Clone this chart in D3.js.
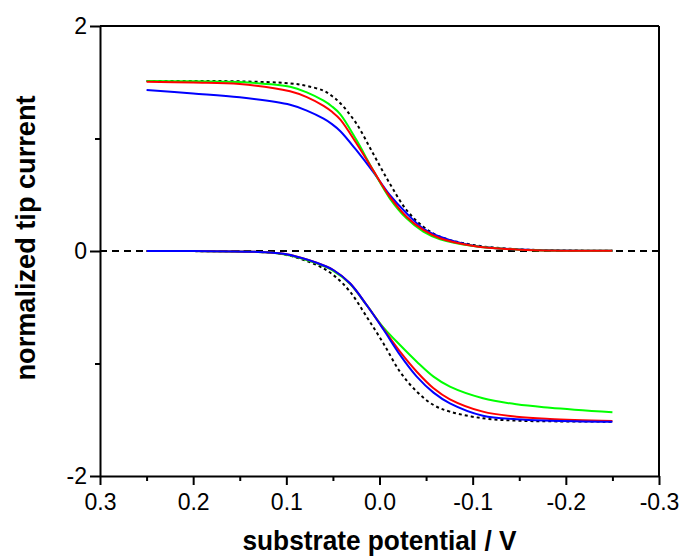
<!DOCTYPE html>
<html>
<head>
<meta charset="utf-8">
<script src="https://cdn.jsdelivr.net/npm/d3@7"></script>
<style>
  body { margin: 0; background: #fff; }
  text { font-family: "Liberation Sans", Arial, sans-serif; }
</style>
</head>
<body>
<div id="chart"></div>
<script>
// potentials (V) where the curves were read
const upperE = [0.25, 0.20, 0.15, 0.096, 0.078, 0.060, 0.051, 0.042, 0.025, 0.007, -0.011, -0.029, -0.047, -0.065, -0.101, -0.15, -0.25];
const lowerE = [0.25, 0.20, 0.139, 0.103, 0.0675, 0.0496, 0.0317, 0.0138, -0.0041, -0.022, -0.040, -0.058, -0.0756, -0.111, -0.147, -0.183, -0.25];

// upper branch (positive currents)
const upperBlack = [1.511, 1.511, 1.508, 1.49, 1.467, 1.425, 1.378, 1.313, 1.135, 0.868, 0.60, 0.364, 0.216, 0.127, 0.053, 0.015, 0.002];
const upperGreen = [1.511, 1.508, 1.502, 1.46, 1.41, 1.336, 1.285, 1.215, 0.99, 0.72, 0.468, 0.29, 0.172, 0.104, 0.044, 0.012, 0.002];
const upperRed   = [1.505, 1.497, 1.484, 1.42, 1.368, 1.29, 1.237, 1.168, 0.96, 0.72, 0.483, 0.305, 0.187, 0.113, 0.044, 0.012, 0.002];
const upperBlue  = [1.431, 1.40, 1.366, 1.30, 1.248, 1.176, 1.128, 1.065, 0.898, 0.705, 0.498, 0.335, 0.20, 0.127, 0.047, 0.013, 0.002];

// lower branch (negative currents)
const lowerBlack = [0, -0.001, -0.006, -0.03, -0.124, -0.213, -0.361, -0.584, -0.82, -1.073, -1.25, -1.369, -1.428, -1.487, -1.508, -1.514, -1.517];
const lowerGreen = [0, -0.001, -0.007, -0.028, -0.11, -0.177, -0.292, -0.482, -0.679, -0.836, -0.984, -1.117, -1.206, -1.309, -1.363, -1.393, -1.434];
const lowerRed   = [0, -0.001, -0.006, -0.025, -0.104, -0.169, -0.287, -0.48, -0.69, -0.895, -1.073, -1.22, -1.318, -1.428, -1.473, -1.493, -1.511];
const lowerBlue  = [0, -0.001, -0.006, -0.025, -0.104, -0.169, -0.287, -0.48, -0.696, -0.924, -1.117, -1.259, -1.354, -1.464, -1.496, -1.508, -1.517];

const xTicks = [0.3, 0.2, 0.1, 0.0, -0.1, -0.2, -0.3];
const xTickLabels = ["0.3", "0.2", "0.1", "0.0", "-0.1", "-0.2", "-0.3"];
const xMinorTicks = [0.25, 0.15, 0.05, -0.05, -0.15, -0.25];
const yTicks = [-2, 0, 2];
const yTickLabels = ["-2", "0", "2"];
const yMinorTicks = [-1, 1];

const W = 682, H = 559;
const margin = { top: 26, right: 23, bottom: 83, left: 100 },
  width = W - margin.left - margin.right,
  height = H - margin.top - margin.bottom;

const svg = d3.select("#chart")
  .append("svg")
  .attr("width", W)
  .attr("height", H);

const g = svg.append("g")
  .attr("transform", `translate(${margin.left},${margin.top})`);

const x = d3.scaleLinear().domain([0.3, -0.3]).range([0, width]);
const y = d3.scaleLinear().domain([-2, 2]).range([height, 0]);

// axes
g.append("g")
  .attr("transform", `translate(0,${height})`)
  .call(d3.axisBottom(x).tickValues(xTicks).tickSize(9).tickSizeOuter(0).tickPadding(9)
    .tickFormat((d, i) => xTickLabels[i]));
g.append("g")
  .attr("transform", `translate(0,${height})`)
  .call(d3.axisBottom(x).tickValues(xMinorTicks).tickSize(5).tickFormat(""))
  .call(a => a.select(".domain").remove());

g.append("g")
  .call(d3.axisLeft(y).tickValues(yTicks).tickSize(10).tickSizeOuter(0).tickPadding(3)
    .tickFormat((d, i) => yTickLabels[i]));
g.append("g")
  .call(d3.axisLeft(y).tickValues(yMinorTicks).tickSize(5).tickFormat(""))
  .call(a => a.select(".domain").remove());

g.selectAll(".domain, .tick line").attr("stroke", "#000").attr("stroke-width", 2);
g.selectAll(".tick text").attr("fill", "#000").style("font-size", "23px");

// top and right frame
g.append("line").attr("x1", 0).attr("x2", width).attr("y1", 0).attr("y2", 0)
  .attr("stroke", "#000").attr("stroke-width", 2);
g.append("line").attr("x1", width).attr("x2", width).attr("y1", 0).attr("y2", height)
  .attr("stroke", "#000").attr("stroke-width", 2);

// zero line
g.append("line")
  .attr("x1", x(0.3)).attr("x2", x(-0.3))
  .attr("y1", y(0)).attr("y2", y(0))
  .attr("stroke", "#000").attr("stroke-width", 2)
  .attr("stroke-dasharray", "7,5");

const line = d3.line()
  .x(d => x(d[0]))
  .y(d => y(d[1]))
  .curve(d3.curveCatmullRom.alpha(0.5));

const series = [
  { e: upperE, v: upperBlack, color: "#000", dash: "3,3" },
  { e: upperE, v: upperBlue, color: "#0000ff" },
  { e: upperE, v: upperGreen, color: "#00ff00" },
  { e: upperE, v: upperRed, color: "#ff0000" },
  { e: lowerE, v: lowerBlack, color: "#000", dash: "3,3" },
  { e: lowerE, v: lowerGreen, color: "#00ff00" },
  { e: lowerE, v: lowerRed, color: "#ff0000" },
  { e: lowerE, v: lowerBlue, color: "#0000ff" }
];

g.selectAll(".curve")
  .data(series)
  .join("path")
  .attr("class", "curve")
  .attr("fill", "none")
  .attr("stroke", d => d.color)
  .attr("stroke-width", 2)
  .attr("stroke-dasharray", d => d.dash || null)
  .attr("d", d => line(d.e.map((e, i) => [e, d.v[i]])));

// axis titles
svg.append("text")
  .attr("x", margin.left + width / 2)
  .attr("y", 550)
  .attr("text-anchor", "middle")
  .style("font-size", "27px")
  .style("font-weight", "bold")
  .attr("textLength", 274)
  .attr("lengthAdjust", "spacingAndGlyphs")
  .text("substrate potential / V");

svg.append("text")
  .attr("transform", "rotate(-90)")
  .attr("x", -238)
  .attr("y", 35)
  .attr("text-anchor", "middle")
  .style("font-size", "27px")
  .style("font-weight", "bold")
  .attr("textLength", 285)
  .attr("lengthAdjust", "spacingAndGlyphs")
  .text("normalized tip current");
</script>
</body>
</html>
